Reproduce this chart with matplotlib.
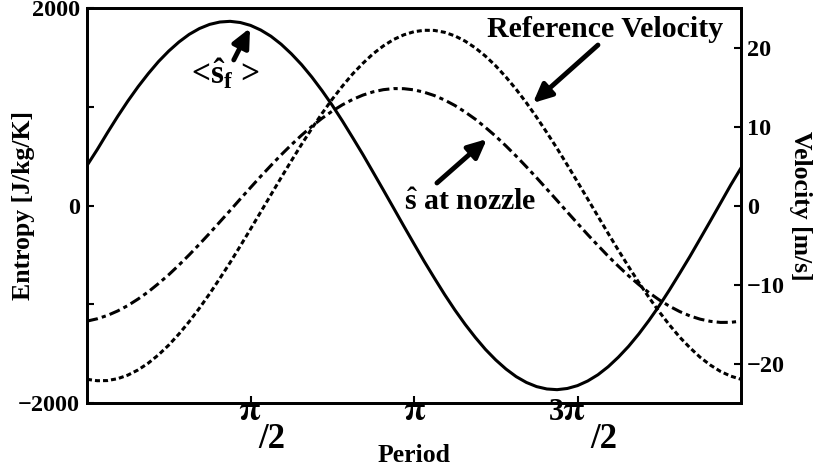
import numpy as np
import matplotlib
matplotlib.use('Agg')
import matplotlib.pyplot as plt

plt.rcParams.update({
    'font.family': 'serif',
    'font.serif': ['Liberation Serif', 'DejaVu Serif'],
    'font.weight': 'bold',
    'axes.labelweight': 'bold',
    'mathtext.fontset': 'custom',
    'mathtext.rm': 'Liberation Serif:bold',
    'mathtext.it': 'Liberation Serif:bold',
    'mathtext.bf': 'Liberation Serif:bold',
    'lines.scale_dashes': False,
})

# ---- data ----
period = np.linspace(0, 2 * np.pi, 65)
entropy_sf = [405, 566, 737, 902, 1058, 1203, 1336, 1458, 1564, 1656,
              1733, 1792, 1834, 1858, 1865, 1853, 1824, 1777, 1714, 1633,
              1536, 1426, 1301, 1163, 1015, 855, 687, 516, 337, 157,
              -25, -208, -388, -566, -736, -902, -1058, -1203, -1336, -1458,
              -1564, -1656, -1733, -1792, -1834, -1858, -1865, -1853, -1824, -1777,
              -1714, -1633, -1536, -1426, -1301, -1163, -1015, -855, -687, -516,
              -337, -157, 25, 208, 380]
entropy_nozzle = [-1171, -1147, -1113, -1068, -1013, -947, -874, -790, -701, -603,
                  -500, -392, -281, -166, -51, 66, 181, 295, 405, 513,
                  615, 712, 801, 883, 956, 1020, 1074, 1118, 1151, 1173,
                  1184, 1183, 1171, 1147, 1113, 1068, 1013, 947, 874, 790,
                  701, 603, 500, 392, 281, 166, 51, -66, -181, -295,
                  -405, -513, -615, -712, -801, -883, -956, -1020, -1074, -1118,
                  -1151, -1173, -1184, -1183, -1171]
ref_velocity = [-22.0, -22.18, -22.16, -21.92, -21.47, -20.81, -19.95, -18.90, -17.67, -16.26,
                -14.70, -13.00, -11.17, -9.23, -7.23, -5.13, -2.99, -0.82, 1.36, 3.53,
                5.66, 7.74, 9.75, 11.65, 13.46, 15.12, 16.66, 18.00, 19.21, 20.20,
                21.01, 21.60, 22.0, 22.18, 22.16, 21.92, 21.47, 20.81, 19.95, 18.90,
                17.67, 16.26, 14.70, 13.00, 11.17, 9.23, 7.23, 5.13, 2.99, 0.82,
                -1.36, -3.53, -5.66, -7.74, -9.75, -11.65, -13.46, -15.12, -16.66, -18.00,
                -19.21, -20.20, -21.01, -21.60, -22.0]

xtick_pos = [np.pi / 2, np.pi, 3 * np.pi / 2]
xtick_coef = ['', '', '3']
xtick_den = ['/2', '', '/2']
left_ticks = [-2000, -1000, 0, 1000, 2000]
left_labels = ['−2000', '', '0', '', '2000']
right_ticks = [-20, -10, 0, 10, 20]
right_labels = ['−20', '−10', '0', '10', '20']

fig = plt.figure(figsize=(8.18, 4.74), dpi=100)
ax = fig.add_axes([87 / 818, 1 - 403 / 474, 654 / 818, 395 / 474])
ax2 = ax.twinx()

ax.plot(period, entropy_sf, color='k', lw=2.2)
ax.plot(period, entropy_nozzle, color='k', lw=2.2, dashes=(8, 3, 3, 3))
ax2.plot(period, ref_velocity, color='k', lw=2.2, dashes=(3.6, 2.2))

ax.set_xlim(0, 2 * np.pi)
ax.set_ylim(-2000, 2000)
ax2.set_ylim(-25, 25)

for a in (ax, ax2):
    for s in a.spines.values():
        s.set_linewidth(2)

ax.set_yticks(left_ticks)
ax.set_yticklabels(left_labels)
ax.set_xticks(xtick_pos)
ax.set_xticklabels([''] * len(xtick_pos))
ax.tick_params(axis='both', direction='in', length=5, width=1.5,
               labelsize=17.5, pad=5)
ax2.set_yticks(right_ticks)
ax2.set_yticklabels(right_labels)
ax2.tick_params(axis='y', direction='in', length=5, width=1.5,
                labelsize=17.5, pad=4.5)

# x tick labels: pi with optional coefficient and lowered "/2"
tcoord = ('data', 'axes fraction')
pi_shift = [-1.0, 0.7, -2.9]
den_shift = [25.2, 0, 28.8]
for pos, coef, den, ps, ds in zip(xtick_pos, xtick_coef, xtick_den,
                                  pi_shift, den_shift):
    ax.annotate(r'$\mathbf{\pi}$', xy=(pos, 0), xycoords=tcoord,
                xytext=(ps, -12.2), textcoords='offset points', ha='center',
                va='baseline', fontsize=25, math_fontfamily='stix')
    if coef:
        ax.annotate(coef, xy=(pos, 0), xycoords=tcoord,
                    xytext=(ps - 7.2, -12.2), textcoords='offset points',
                    ha='right', va='baseline', fontsize=22)
    if den:
        ax.annotate(den, xy=(pos, 0), xycoords=tcoord, xytext=(ds, -32.4),
                    textcoords='offset points', ha='right', va='baseline',
                    fontsize=25)

ax.set_xlabel('Period', fontsize=18.5)
ax.xaxis.set_label_coords(0.5, (403 - 462) / 395)
ax.xaxis.label.set_va('baseline')

ax.set_ylabel('Entropy [J/kg/K]', fontsize=18.5)
ax.yaxis.set_label_coords((35 - 87) / 654, 0.5)

ax2.set_ylabel('Velocity [m/s]', fontsize=18.5)
ax2.yaxis.label.set_rotation(270)
ax2.yaxis.label.set_rotation_mode('anchor')
ax2.yaxis.label.set_va('bottom')
ax2.yaxis.label.set_ha('center')
ax2.yaxis.set_label_coords((789 - 87) / 654, 0.5)

arrow = dict(arrowstyle='-|>,head_length=0.75,head_width=0.35', lw=3.5,
             color='k', shrinkA=0, shrinkB=0, mutation_scale=15)

ax.annotate('', xy=(1.566, 1797), xytext=(1.41, 1474), arrowprops=arrow)
ax.text(1.33, 1230, r'<$\hat{s}_{f}$ >', ha='center', va='baseline',
        fontsize=24)

ax.annotate('', xy=(4.284, 1038), xytext=(4.909, 1625), arrowprops=arrow)
ax.text(4.976, 1706, 'Reference Velocity', ha='center', va='baseline',
        fontsize=21.5)

ax.annotate('', xy=(3.842, 673), xytext=(3.362, 228), arrowprops=arrow)
ax.text(3.679, -46, r'$\hat{s}$ at nozzle', ha='center', va='baseline',
        fontsize=21.5)

fig.savefig('out.png', dpi=100)
